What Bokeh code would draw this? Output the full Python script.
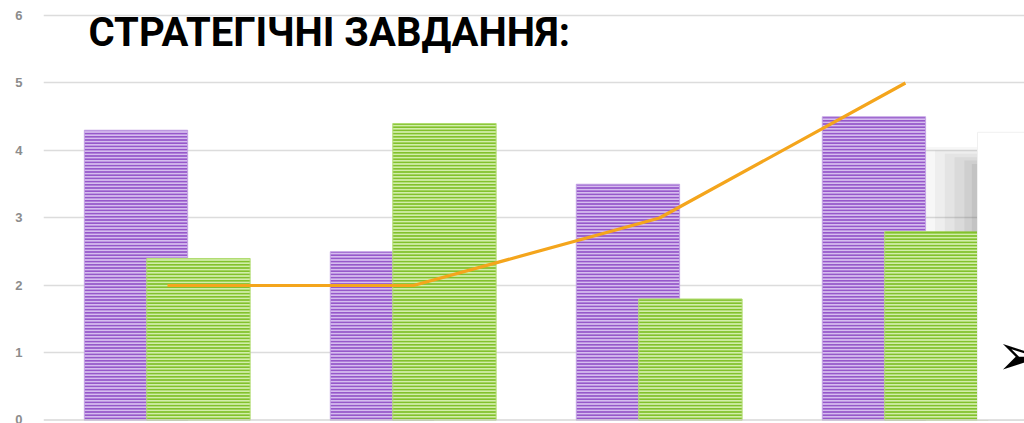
import numpy as np
from bokeh.plotting import figure
from bokeh.models import Range1d, FixedTicker, Span, Label
from bokeh.core.properties import value
from bokeh.embed import file_html
from bokeh.resources import INLINE

# ---- data ----
categories = ["Категорія 1", "Категорія 2", "Категорія 3", "Категорія 4"]
series_purple = [4.3, 2.5, 3.5, 4.5]
series_green = [2.4, 4.4, 1.8, 2.8]
series_line = [2.0, 2.0, 3.0, 5.0]
y_ticks = [0, 1, 2, 3, 4, 5, 6]
title_text = "СТРАТЕГІЧНІ ЗАВДАННЯ:"

xi = np.arange(len(categories))

p = figure(width=1024, height=423, output_backend="svg", toolbar_location=None,
           x_range=Range1d(-0.504, 3.484), y_range=Range1d(0, 6.222),
           min_border_left=43, min_border_right=0, min_border_top=0, min_border_bottom=3)
p.outline_line_color = None
p.background_fill_color = "white"
p.border_fill_color = "white"
p.xaxis.visible = False
p.xgrid.visible = False
p.ygrid.grid_line_color = "#dcdcdc"
p.ygrid.grid_line_width = 1.6
p.yaxis.ticker = FixedTicker(ticks=y_ticks)
p.yaxis.axis_line_color = None
p.yaxis.major_tick_line_color = None
p.yaxis.minor_tick_line_color = None
p.yaxis.major_label_standoff = 15
p.yaxis.major_label_text_font = "Liberation Sans"
p.yaxis.major_label_text_font_size = "13px"
p.yaxis.major_label_text_font_style = "bold"
p.yaxis.major_label_text_color = "#8c8c8c"

# bars
p.vbar(x=xi - 0.128, top=series_purple, width=0.42, bottom=0,
       fill_color="#d6bdef", line_color="#c4a4e4", line_width=1,
       hatch_pattern="horizontal_line", hatch_color="#9658ca", hatch_scale=3.2, hatch_weight=2.0)
p.vbar(x=xi + 0.126, top=series_green, width=0.42, bottom=0,
       fill_color="#d2eeaa", line_color="#b2dc72", line_width=1,
       hatch_pattern="horizontal_line", hatch_color="#82c12c", hatch_scale=3.2, hatch_weight=2.0)

# line
p.line(x=xi, y=series_line, line_color="#f4a51c", line_width=3.2)

# baseline
p.add_layout(Span(location=0, dimension="width", line_color="#c4c4c4", line_width=2))

# decorative shadow + white overlay box at right
for x0, t, a in [(3.085, 4.05, 0.05), (3.12, 4.0, 0.06), (3.16, 3.95, 0.07),
                 (3.2, 3.9, 0.08), (3.24, 3.85, 0.09), (3.27, 3.8, 0.1)]:
    p.quad(left=x0, right=3.293, bottom=2.8, top=t, fill_color="#666666",
           fill_alpha=a, line_color=None)
p.quad(left=3.293, right=3.6, bottom=0, top=4.27, fill_color="white", line_color="#f0f0f0",
       line_width=1)

p.text(x=[3.37], y=[0.963], text=["➢"], text_font=value("DejaVu Sans"),
       text_font_size="58px", text_align="left", text_baseline="middle", text_color="black")

p.add_layout(Label(x=-0.321, y=5.748, text=title_text, text_font="Roboto",
                   text_font_style="bold", text_font_size="40px", text_color="black",
                   text_baseline="alphabetic"))

open("out.html", "w").write(file_html(p, INLINE))
